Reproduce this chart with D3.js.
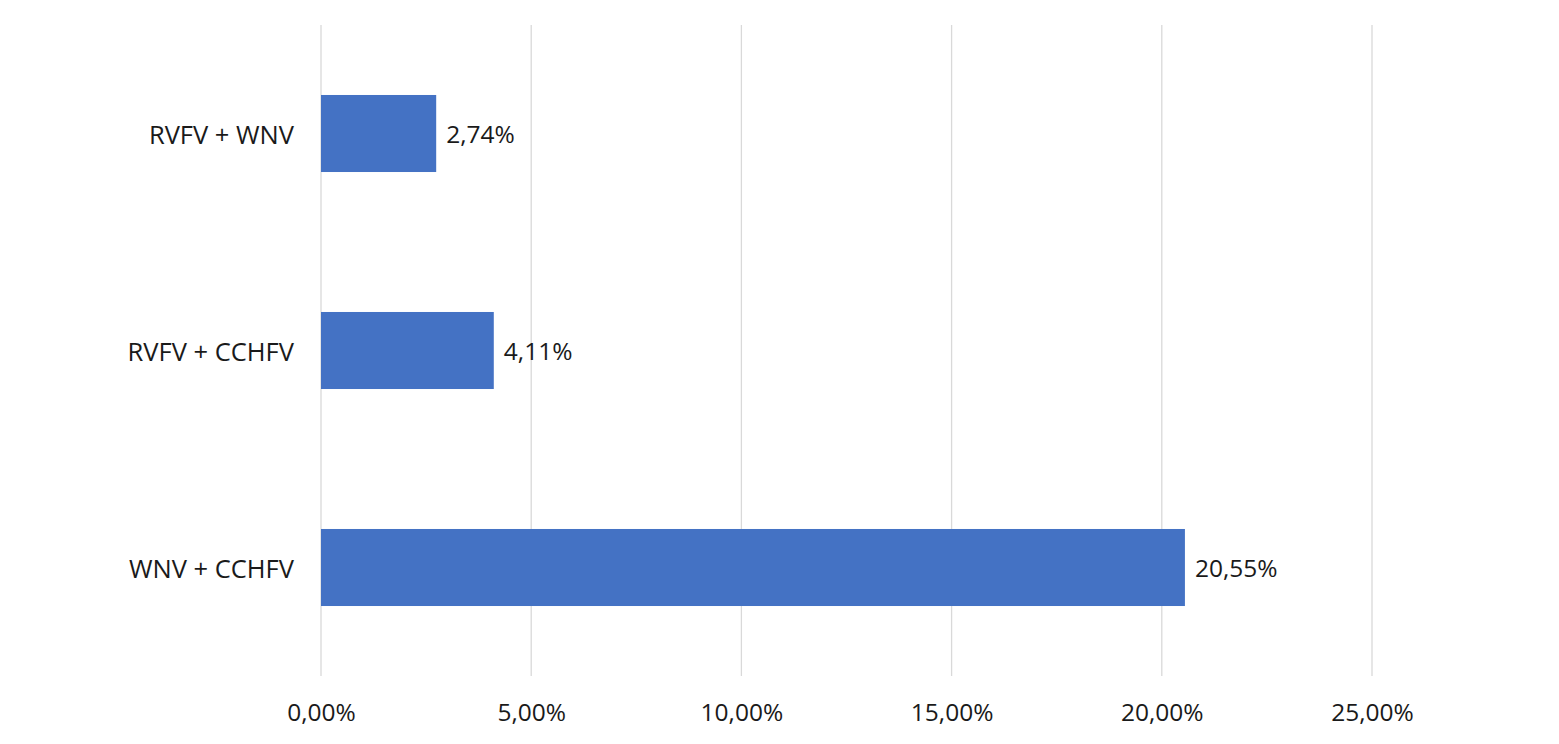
<!DOCTYPE html>
<html>
<head>
<meta charset="utf-8">
<script src="https://cdn.jsdelivr.net/npm/d3@7"></script>
<style>
  body { margin: 0; background: #fff; }
  text { font-family: "Open Sans", "Noto Sans", sans-serif; fill: #1a1a1a; }
</style>
</head>
<body>
<svg id="chart" width="1559" height="744"></svg>
<script>
const categories = ['RVFV + WNV', 'RVFV + CCHFV', 'WNV + CCHFV'];
const values = [2.74, 4.11, 20.55];
const tickValues = [0, 5, 10, 15, 20, 25];

const svg = d3.select("#chart");
const margin = { top: 25, right: 187, bottom: 68, left: 321 };
const width = 1559 - margin.left - margin.right;
const height = 744 - margin.top - margin.bottom;
const fontSize = "24.5px";

const fmt = v => v.toFixed(2).replace('.', ',') + '%';

const g = svg.append("g")
    .attr("transform", `translate(${margin.left},${margin.top})`);

const x = d3.scaleLinear()
    .domain([0, 25])
    .range([0, width]);

const y = d3.scaleBand()
    .domain(categories)
    .range([0, height])
    .paddingInner(0.645)
    .paddingOuter(0.3225);

// gridlines
g.append("g")
    .selectAll("line")
    .data(tickValues)
    .enter()
    .append("line")
    .attr("x1", d => x(d))
    .attr("x2", d => x(d))
    .attr("y1", 0)
    .attr("y2", height)
    .style("stroke", "#d9d9d9")
    .style("stroke-width", 1.3);

// x axis labels
const xAxis = d3.axisBottom(x)
    .tickValues(tickValues)
    .tickFormat(fmt)
    .tickSize(0)
    .tickPadding(28);

g.append("g")
    .attr("transform", `translate(0,${height})`)
    .call(xAxis)
    .call(a => a.select(".domain").remove())
    .selectAll("text")
    .style("font-size", fontSize)
    .style("font-family", '"Open Sans", sans-serif')
    .attr("fill", "#1a1a1a");

// y axis labels
const yAxis = d3.axisLeft(y)
    .tickSize(0)
    .tickPadding(27);

g.append("g")
    .call(yAxis)
    .call(a => a.select(".domain").remove())
    .selectAll("text")
    .attr("dy", "0.42em")
    .style("font-size", "25.5px")
    .style("font-family", '"Open Sans", sans-serif')
    .attr("fill", "#1a1a1a");

// bars
g.selectAll("rect.bar")
    .data(values)
    .enter()
    .append("rect")
    .attr("class", "bar")
    .attr("x", x(0))
    .attr("y", (d, i) => y(categories[i]))
    .attr("width", d => x(d) - x(0))
    .attr("height", y.bandwidth())
    .style("fill", "#4472c4");

// value labels
g.selectAll("text.val")
    .data(values)
    .enter()
    .append("text")
    .attr("class", "val")
    .attr("x", d => x(d) + 10)
    .attr("y", (d, i) => y(categories[i]) + y.bandwidth() / 2)
    .attr("dy", "0.4em")
    .style("font-size", fontSize)
    .text(d => fmt(d));
</script>
</body>
</html>
